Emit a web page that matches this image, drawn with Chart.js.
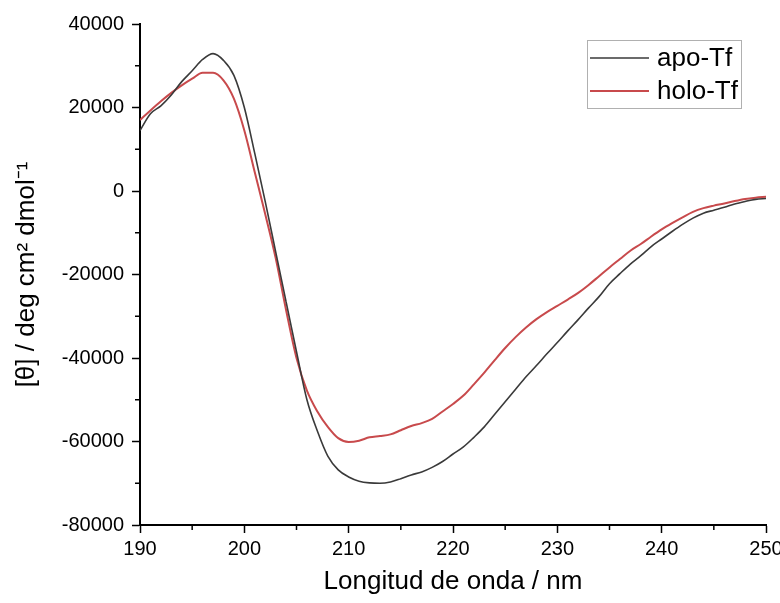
<!DOCTYPE html>
<html>
<head>
<meta charset="utf-8">
<script src="https://cdn.jsdelivr.net/npm/chart.js@4/dist/chart.umd.min.js"></script>
<style>
  html, body { margin: 0; padding: 0; background: #fff; }
  #wrap { width: 780px; height: 603px; position: relative; }
</style>
</head>
<body>
<div id="wrap"><canvas id="graficoCD"></canvas></div>
<script>
// longitud de onda (nm)
var longitudes = [190, 191, 192, 193, 194, 195, 196, 197, 198, 199,
                  200, 201, 202, 203, 204, 205, 206, 207, 208, 209,
                  210, 211, 212, 213, 214, 215, 216, 217, 218, 219,
                  220, 221, 222, 223, 224, 225, 226, 227, 228, 229,
                  230, 231, 232, 233, 234, 235, 236, 237, 238, 239,
                  240, 241, 242, 243, 244, 245, 246, 247, 248, 249, 250];

// elipticidad molar, apo-Tf
var apoTf = [14500, 18500, 20400, 23000, 26200, 28800, 31500, 32900, 31300, 27700,
             20000, 9000, -2500, -14500, -26500, -38500, -50000, -57500, -63500, -66800,
             -68500, -69500, -69900, -70000, -69700, -68900, -68000, -67300, -66200, -64800,
             -63000, -61300, -59000, -56500, -53500, -50500, -47500, -44500, -41800, -39000,
             -36300, -33500, -30800, -28000, -25300, -22200, -19800, -17500, -15500, -13300,
             -11500, -9700, -8000, -6500, -5300, -4600, -3900, -3100, -2500, -2000, -1800];

// elipticidad molar, holo-Tf
var holoTf = [17000, 19300, 21500, 23500, 25300, 26900, 28300, 28300, 26500, 22100,
              14500, 4500, -5500, -16000, -28500, -40000, -47800, -52800, -56500, -59200,
              -60100, -59800, -59000, -58700, -58300, -57300, -56300, -55600, -54600, -52800,
              -51000, -49000, -46300, -43500, -40500, -37600, -35000, -32700, -30700, -29000,
              -27500, -26000, -24400, -22500, -20400, -18300, -16300, -14300, -12700, -10900,
              -9200, -7700, -6300, -5000, -4100, -3500, -3000, -2400, -1900, -1600, -1400];

var nombres = ['apo-Tf', 'holo-Tf'];
var colores = ['#3a3a3a', '#c84a4c'];

function puntos(valores) {
    return longitudes.map(function (x, i) { return { x: x, y: valores[i] }; });
}

// marcas menores de los ejes
var marcasMenores = {
    id: 'marcasMenores',
    afterDraw: function (chart) {
        var ctx = chart.ctx;
        var sx = chart.scales.x, sy = chart.scales.y;
        ctx.save();
        ctx.strokeStyle = '#000';
        ctx.lineWidth = 1.5;
        ctx.beginPath();
        for (var v = 195; v < 250; v += 10) {
            var px = sx.getPixelForValue(v);
            ctx.moveTo(px, sy.bottom);
            ctx.lineTo(px, sy.bottom + 5);
        }
        for (var w = -70000; w < 40000; w += 20000) {
            var py = sy.getPixelForValue(w);
            ctx.moveTo(sx.left, py);
            ctx.lineTo(sx.left - 5, py);
        }
        ctx.stroke();
        ctx.restore();
    }
};

// leyenda con recuadro
var leyenda = {
    id: 'leyenda',
    afterDraw: function (chart) {
        var ctx = chart.ctx;
        ctx.save();
        ctx.strokeStyle = '#b0b0b0';
        ctx.lineWidth = 1;
        ctx.strokeRect(587.5, 40.5, 154, 68);
        ctx.font = '26px "Liberation Sans", Arial, sans-serif';
        ctx.textBaseline = 'middle';
        ctx.fillStyle = '#000';
        chart.data.datasets.forEach(function (ds, i) {
            var y = 58 + i * 33;
            ctx.strokeStyle = ds.borderColor;
            ctx.lineWidth = ds.borderWidth;
            ctx.beginPath();
            ctx.moveTo(590, y);
            ctx.lineTo(649, y);
            ctx.stroke();
            ctx.fillText(ds.label, 657, y + 1);
        });
        ctx.restore();
    }
};

document.addEventListener('DOMContentLoaded', function () {
    var fuente = { family: '"Liberation Sans", Arial, sans-serif', size: 20 };
    var ctx = document.getElementById('graficoCD').getContext('2d');
    new Chart(ctx, {
        type: 'line',
        data: {
            datasets: [{
                label: nombres[0],
                data: puntos(apoTf),
                borderColor: colores[0],
                borderWidth: 1.6,
                pointRadius: 0,
                cubicInterpolationMode: 'monotone',
                fill: false
            }, {
                label: nombres[1],
                data: puntos(holoTf),
                borderColor: colores[1],
                borderWidth: 2,
                pointRadius: 0,
                cubicInterpolationMode: 'monotone',
                fill: false
            }]
        },
        options: {
            responsive: true,
            maintainAspectRatio: false,
            animation: false,
            layout: { padding: { top: 24, right: 14, left: 0, bottom: 0 } },
            plugins: {
                legend: { display: false },
                tooltip: { enabled: false }
            },
            scales: {
                x: {
                    type: 'linear',
                    min: 190,
                    max: 250,
                    afterFit: function (s) { s.height = 78; s.paddingRight = 0; s.paddingLeft = 0; },
                    ticks: {
                        stepSize: 10, color: '#000', font: fuente, padding: 4, maxRotation: 0,
                        callback: function (v) { return String(v); }
                    },
                    grid: { drawOnChartArea: false, tickLength: 8, tickColor: '#000', tickWidth: 1.5 },
                    border: { color: '#000', width: 2 },
                    title: {
                        display: true,
                        text: 'Longitud de onda / nm',
                        color: '#000',
                        font: { family: '"Liberation Sans", Arial, sans-serif', size: 26 },
                        padding: { top: 0, bottom: 6 }
                    }
                },
                y: {
                    min: -80000,
                    max: 40000,
                    afterFit: function (s) { s.width = 140; },
                    ticks: {
                        stepSize: 20000, color: '#000', font: fuente, padding: 8,
                        callback: function (v) { return String(v); }
                    },
                    grid: { drawOnChartArea: false, tickLength: 8, tickColor: '#000', tickWidth: 1.5 },
                    border: { color: '#000', width: 2 },
                    title: {
                        display: true,
                        text: '[θ] / deg cm² dmol⁻¹',
                        color: '#000',
                        font: { family: '"Liberation Sans", Arial, sans-serif', size: 26 },
                        padding: { top: 11, bottom: 0 }
                    }
                }
            }
        },
        plugins: [marcasMenores, leyenda]
    });
});
</script>
</body>
</html>
